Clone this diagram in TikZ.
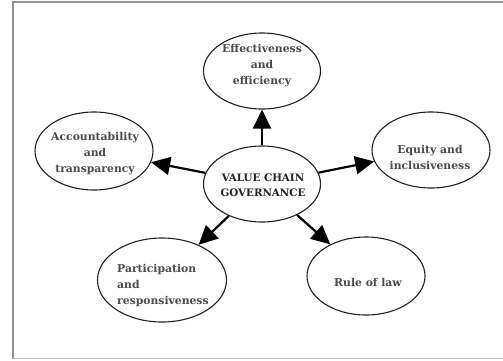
\documentclass[tikz,border=0pt]{standalone}
\usepackage{fontspec}
\setmainfont{DejaVu Serif}
\usetikzlibrary{shapes.geometric,arrows.meta}
\definecolor{outl}{HTML}{222222}
\definecolor{txtgray}{HTML}{4A4A4A}
\definecolor{txtdark}{HTML}{222222}
\begin{document}
\begin{tikzpicture}[x=1pt,y=-1pt,
  oval/.style={draw=outl,line width=1.1pt,ellipse,inner sep=0pt},
  lbl/.style={font=\bfseries\fontsize{10.8}{16}\selectfont,text=txtgray,align=center,inner sep=0pt},
  ctr/.style={font=\bfseries\fontsize{10.3}{15}\selectfont,text=txtdark,align=center,inner sep=0pt},
  arr/.style={draw=black,line width=2.2pt,-{Triangle[length=19pt,width=18pt]}}]
\useasboundingbox (0,0) rectangle (503,360);
% frame
\draw[draw=gray!85,line width=1.2pt] (13,359) -- (13,2) -- (503,2);
\draw[draw=gray!45,line width=0.8pt] (13,358.5) -- (503,358.5);
% ellipses
\node[oval,minimum width=117pt,minimum height=76pt] (c) at (262,184) {};
\node[oval,minimum width=117pt,minimum height=76pt] (t) at (262,71) {};
\node[oval,minimum width=118pt,minimum height=78pt] (l) at (94,151) {};
\node[oval,minimum width=118pt,minimum height=76pt] (r) at (431,150) {};
\node[oval,minimum width=129pt,minimum height=84pt] (bl) at (162,280) {};
\node[oval,minimum width=118pt,minimum height=78pt] (br) at (366,276) {};
% arrows
\draw[arr] (c) -- (t);
\draw[arr] (c) -- (l);
\draw[arr] (c) -- (r);
\draw[arr] (c) -- (bl);
\draw[arr] (c) -- (br);
% labels
\node[ctr] (ct) at (263,185) {VALUE CHAIN\\GOVERNANCE};
\node[lbl] (tt) at (262,66) {Effectiveness\\and\\efficiency};
\node[lbl] (lt) at (95,154) {Accountability\\and\\transparency};
\node[lbl] (rt) at (430,157) {Equity and\\inclusiveness};
\node[lbl,align=left,anchor=west] (blt) at (117,286) {Participation\\and\\responsiveness};
\node[lbl] (brt) at (368,282) {Rule of law};
\end{tikzpicture}
\end{document}
